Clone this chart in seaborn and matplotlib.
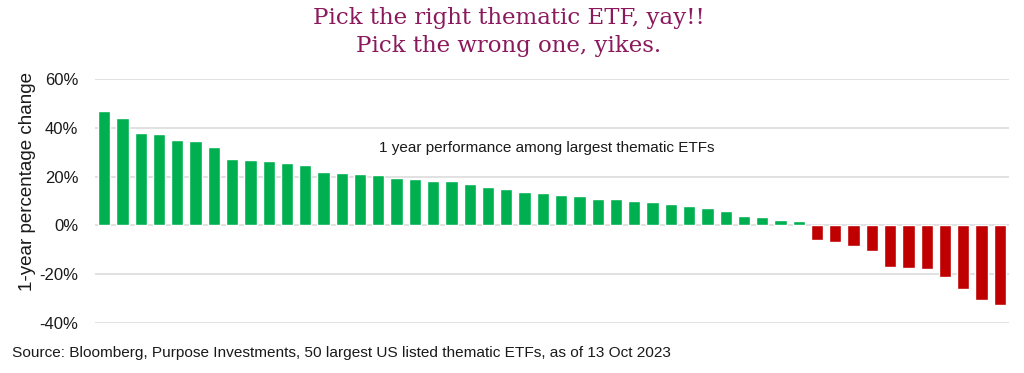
import pandas as pd
import numpy as np
import matplotlib.pyplot as plt
import seaborn as sns

# 1-year % change of the 50 largest US listed thematic ETFs
gainers = [46.7, 44.1, 38.0, 37.4, 35.2, 34.4, 32.2, 27.2, 26.9, 26.3,
           25.7, 24.6, 22.0, 21.4, 21.2, 20.8, 19.5, 19.0, 18.4, 18.4,
           17.1, 15.8, 14.8, 13.7, 13.3, 12.5, 12.1, 11.0, 11.0, 9.9,
           9.5, 8.8, 7.8, 7.2, 6.1, 3.9, 3.4, 2.3, 1.9]
losers = [-6.1, -6.9, -8.6, -10.6, -16.9, -17.6, -17.8, -21.2, -25.9, -30.5, -32.5]
yticks = [-40, -20, 0, 20, 40, 60]

title = "Pick the right thematic ETF, yay!!\nPick the wrong one, yikes."
note = "1 year performance among largest thematic ETFs"
source = "Source: Bloomberg, Purpose Investments, 50 largest US listed thematic ETFs, as of 13 Oct 2023"

values = gainers + losers
df = pd.DataFrame({
    'rank': range(1, len(values) + 1),
    'change': values,
})
df['sign'] = np.where(df['change'] >= 0, 'up', 'down')

sns.set_style('white')
plt.rcParams['font.family'] = ['Liberation Sans', 'DejaVu Sans']
plt.rcParams['text.color'] = '#1a1a1a'
plt.rcParams['ytick.color'] = '#1a1a1a'
plt.rcParams['axes.labelcolor'] = '#1a1a1a'

fig = plt.figure(figsize=(10.24, 3.73), dpi=100)
ax = fig.add_axes([95 / 1024, 1 - 323 / 373, 914 / 1024, 244 / 373])

ax.set_axisbelow(True)
for t in yticks:
    ax.axhline(t, color='#d9d9d9', lw=1.1, zorder=0)

sns.barplot(data=df, x='rank', y='change', hue='sign',
            palette={'up': '#00b050', 'down': '#c00000'},
            dodge=False, width=0.67, legend=False, saturation=1, ax=ax)

ax.set_ylim(-40, 60)
ax.set_xlim(-0.5, len(values) - 0.5)
ax.set_yticks(yticks)
ax.set_yticklabels([f"{t}%" for t in yticks], fontsize=12)
ax.tick_params(axis='y', length=0, pad=12)
ax.set_xticks([])
ax.set_xlabel('')
ax.set_ylabel('1-year percentage change', fontsize=13.5)
ax.yaxis.set_label_coords(-0.065, 0.58)
for s in ax.spines.values():
    s.set_visible(False)

ax.text(0.5 * (378 + 715) / 1024, 1 - 148 / 373, note, transform=fig.transFigure,
        ha='center', va='center', fontsize=11)

fig.text(0.497, 1 - 32 / 373, title, ha='center', va='center', fontsize=16.5,
         family=['DejaVu Serif'], color='#8a1a5c', linespacing=1.4)
fig.text(12 / 1024, 1 - 353 / 373, source, ha='left', va='center', fontsize=11.1)

plt.savefig('out.png', dpi=100)
